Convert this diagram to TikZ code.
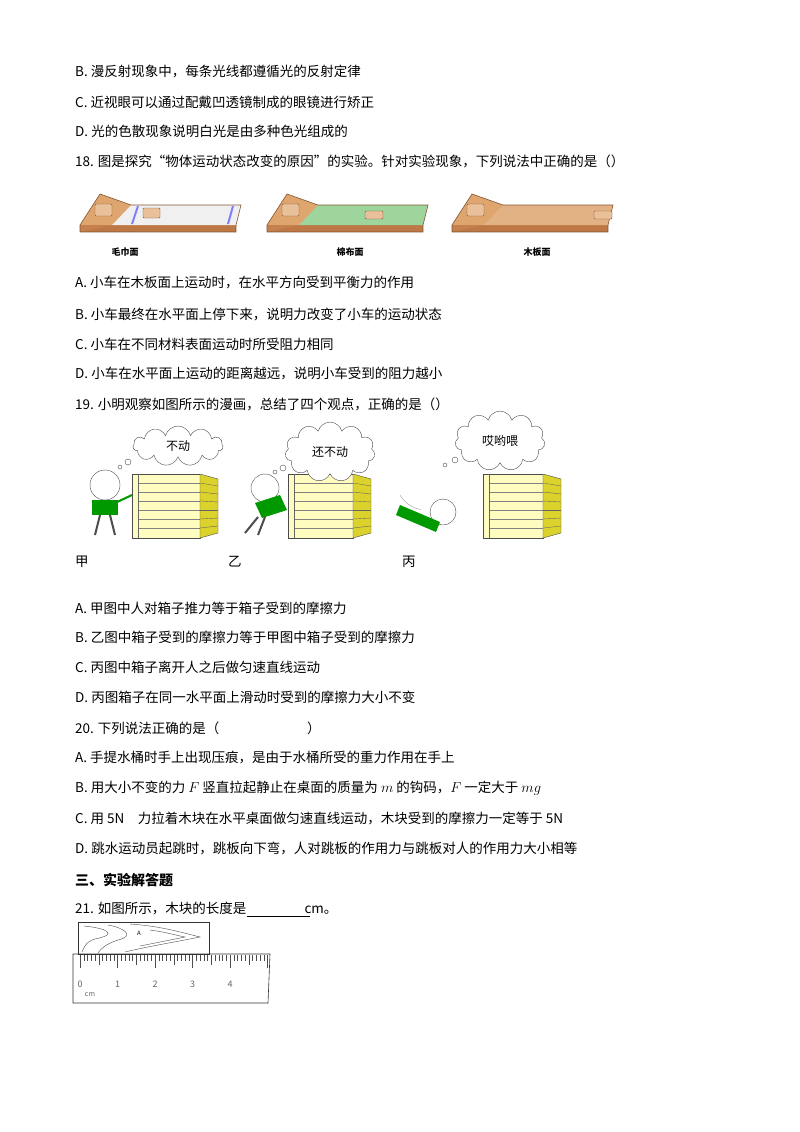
\documentclass[tikz,border=0pt]{standalone}
\usepackage{fontspec}
\setmainfont{Noto Sans CJK SC}
\usetikzlibrary{shapes.symbols}
\definecolor{wood}{RGB}{222,165,110}
\definecolor{wooddk}{RGB}{190,120,70}
\begin{document}
\begin{tikzpicture}[x=1pt,y=-1pt,
 txt/.style={anchor=west,inner sep=0pt,font=\fontsize{13.5}{14}\selectfont},
 lab/.style={inner sep=0pt,font=\fontsize{9}{10}\selectfont\bfseries},
 crate/.style={fill=yellow!25,draw=black!70,line width=0.6pt},
 cloudn/.style={cloud,cloud puffs=11,draw=black!70,fill=white,minimum width=90pt,minimum height=40pt,font=\fontsize{12}{12}\selectfont,inner sep=0pt}]
\useasboundingbox (0,0) rectangle (800,1132);
\fill[white] (0,0) rectangle (800,1132);
% text lines
\node[txt] (l1) at (75,72) {B. 漫反射现象中，每条光线都遵循光的反射定律};
\node[txt] (l2) at (75,102) {C. 近视眼可以通过配戴凹透镜制成的眼镜进行矫正};
\node[txt] (l3) at (75,131) {D. 光的色散现象说明白光是由多种色光组成的};
\node[txt] (l4) at (75,161) {18. 图是探究“物体运动状态改变的原因”的实验。针对实验现象，下列说法中正确的是（）};
\node[txt] (l5) at (75,283) {A. 小车在木板面上运动时，在水平方向受到平衡力的作用};
\node[txt] (l6) at (75,314) {B. 小车最终在水平面上停下来，说明力改变了小车的运动状态};
\node[txt] (l7) at (75,344) {C. 小车在不同材料表面运动时所受阻力相同};
\node[txt] (l8) at (75,374) {D. 小车在水平面上运动的距离越远，说明小车受到的阻力越小};
\node[txt] (l9) at (75,404) {19. 小明观察如图所示的漫画，总结了四个观点，正确的是（）};
\node[txt] (j1) at (75,562) {甲};
\node[txt] (j2) at (228,562) {乙};
\node[txt] (j3) at (402,562) {丙};
\node[txt] (m1) at (75,608) {A. 甲图中人对箱子推力等于箱子受到的摩擦力};
\node[txt] (m2) at (75,637) {B. 乙图中箱子受到的摩擦力等于甲图中箱子受到的摩擦力};
\node[txt] (m3) at (75,667) {C. 丙图中箱子离开人之后做匀速直线运动};
\node[txt] (m4) at (75,697) {D. 丙图箱子在同一水平面上滑动时受到的摩擦力大小不变};
\node[txt] (n0) at (75,728) {20. 下列说法正确的是（\hspace{6.5em}）};
\node[txt] (n1) at (75,758) {A. 手提水桶时手上出现压痕，是由于水桶所受的重力作用在手上};
\node[txt] (n2) at (75,788) {B. 用大小不变的力 $F$ 竖直拉起静止在桌面的质量为 $m$ 的钩码，$F$ 一定大于 $mg$};
\node[txt] (n3) at (75,818) {C. 用 5N\quad 力拉着木块在水平桌面做匀速直线运动，木块受到的摩擦力一定等于 5N};
\node[txt] (n4) at (75,848) {D. 跳水运动员起跳时，跳板向下弯，人对跳板的作用力与跳板对人的作用力大小相等};
\node[txt,font=\fontsize{14}{14}\selectfont\bfseries] (h3) at (75,880) {三、实验解答题};
\node[txt] (q21) at (75,909) {21. 如图所示，木块的长度是\hspace{4.3em}cm。};
\draw[line width=0.6pt] (247,916) -- (310,916);
% ramps
\foreach \dx/\col in {0/gray!12, 187/green!40!gray!55, 372/wood!85!white}{
 \begin{scope}[xshift=\dx]
 \fill[wooddk] (80,225) -- (236,225) -- (236,232) -- (80,232) -- cycle;
 \fill[\col] (130,205) -- (241,205) -- (236,225) -- (112,225) -- cycle;
 \fill[wood] (80,225) -- (100,194) -- (131,205) -- (112,225) -- cycle;
 \fill[wooddk!80!wood] (80,225) -- (112,225) -- (80,232) -- cycle;
 \draw[wooddk!70!black,line width=0.6pt] (80,232) -- (80,225) -- (100,194) -- (131,205) -- (241,205) -- (236,225) -- (236,232) -- (80,232);
 \draw[wooddk!70!black,fill=wood!70,rounded corners=1pt] (95,204) rectangle (112,216);
 \end{scope}}
\node[lab] (r1) at (125,252) {毛巾面};
\node[lab] (r2) at (350,252) {棉布面};
\node[lab] (r3) at (537,252) {木板面};
\draw[blue!50,line width=2pt] (138,206) -- (132,224);
\draw[blue!50,line width=2pt] (233,206) -- (228,224);
\draw[wooddk!70!black,fill=wood!70,rounded corners=1pt] (143,208) rectangle (160,218);
\draw[wooddk!70!black,fill=wood!70,rounded corners=1pt] (365,211) rectangle (383,219);
\draw[wooddk!70!black,fill=wood!70,rounded corners=1pt] (594,211) rectangle (612,219);
% crates
\foreach \x/\w in {132/68, 288/65, 483/60}{
 \draw[crate] (\x,474) rectangle (\x+\w,538);
 \foreach \k in {1,...,6} \draw[black!50] (\x+6,474+\k*9) -- (\x+\w,474+\k*9);
 \draw[black!60] (\x+6,474) -- (\x+6,538);
 \fill[yellow!60!olive!80,draw=black!70] (\x+\w,474) -- (\x+\w+18,479) -- (\x+\w+18,533) -- (\x+\w,538) -- cycle;
 \foreach \k in {1,...,6} \draw[black!60] (\x+\w,474+\k*9) -- (\x+\w+18,478+\k*8);
}
% people
\draw[black!70,fill=white] (105,485) circle (15);
\fill[green!60!black] (92,500) rectangle (118,515);
\draw[line width=2pt,black!70] (100,515) -- (95,535) (110,515) -- (115,535);
\draw[line width=2pt,green!60!black] (115,503) -- (132,495);
\draw[black!70,fill=white] (265,488) circle (14);
\fill[green!60!black] (255,503) -- (280,495) -- (287,510) -- (262,518) -- cycle;
\draw[line width=2pt,black!70] (258,517) -- (245,533) (265,517) -- (258,535);
\draw[black!70,fill=white] (443,512) circle (13);
\fill[green!60!black] (400,505) -- (440,522) -- (436,532) -- (396,515) -- cycle;
\draw[black!40] (400,495) arc (150:100:30);
% clouds
\node[cloudn] (c1) at (178,446) {不动};
\node[cloudn] (c2) at (330,452) {还不动};
\node[cloudn] (c3) at (500,441) {哎哟喂};
\foreach \p/\r in {{(128,462)/3},{(120,467)/2}} \draw[black!70] \p circle (\r);
\foreach \p/\r in {{(283,468)/3},{(275,472)/2}} \draw[black!70] \p circle (\r);
\foreach \p/\r in {{(455,460)/3},{(445,465)/2}} \draw[black!70] \p circle (\r);
% ruler
\draw[black!80,line width=0.6pt] (78,922) rectangle (209,954);
\node[inner sep=0pt,font=\fontsize{6}{6}\selectfont] (A) at (139,933) {A};
\draw[black!70] (84,926) .. controls (105,928) and (120,934) .. (95,939) .. controls (85,942) and (84,948) .. (82,952);
\draw[black!70] (108,925) .. controls (125,928) and (135,936) .. (118,940) .. controls (105,944) and (100,950) .. (98,953);
\draw[black!70] (130,924) .. controls (160,926) and (180,932) .. (200,937) .. controls (170,943) and (150,946) .. (125,952);
\draw[black!70] (150,930) .. controls (165,932) and (175,935) .. (185,937) .. controls (165,941) and (150,944) .. (140,946);
\draw[black!80,line width=0.6pt] (73,954) -- (270,954) -- (268,1003) -- (73,1003) -- cycle;
\foreach \i in {0,...,50}{
 \pgfmathsetmacro{\xx}{80+\i*3.75}
 \pgfmathsetmacro{\len}{mod(\i,10)==0 ? 13 : (mod(\i,5)==0 ? 10 : 6)}
 \draw[black!70] (\xx,955) -- (\xx,955+\len);}
\foreach \i in {0,...,4} \node[inner sep=0pt,font=\fontsize{9}{9}\selectfont,text=black!60] at (80+\i*37.5,984) {\i};
\node[inner sep=0pt,font=\fontsize{7}{7}\selectfont,text=black!60] at (90,995) {cm};
\end{tikzpicture}
\end{document}
